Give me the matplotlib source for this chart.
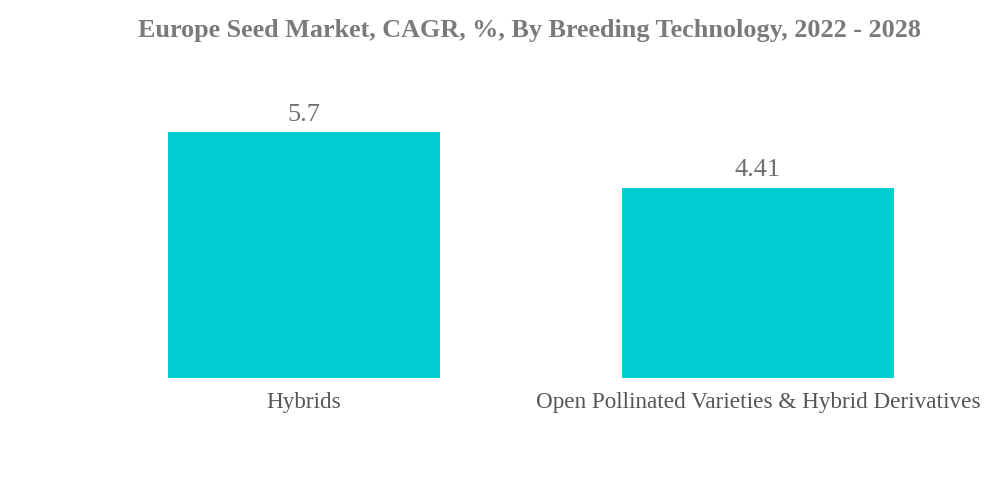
import matplotlib
matplotlib.use('Agg')
import matplotlib.pyplot as plt

categories = ['Hybrids', 'Open Pollinated Varieties & Hybrid Derivatives']
values = [5.7, 4.41]
value_labels = ['5.7', '4.41']

plt.rcParams['font.family'] = ['Liberation Serif', 'DejaVu Serif']

fig = plt.figure(figsize=(10, 4.83), dpi=100)
ax = fig.add_axes([0, (483 - 378) / 483, 1, (378 - 60) / 483])

x = [0, 1]
bars = ax.bar(x, values, width=0.6, color='#00CED1')
ax.set_xlim(-304 / 454, (1000 - 304) / 454)
ax.set_ylim(0, 318 / 43.16)

for b, lab in zip(bars, value_labels):
    ax.text(b.get_x() + b.get_width() / 2, b.get_height() + 0.15, lab,
            ha='center', va='bottom', fontsize=19, color='#707070')

ax.set_xticks(x)
ax.set_xticklabels(categories, fontsize=16.7, color='#555555')
ax.tick_params(axis='x', length=0, pad=10)
ax.set_yticks([])
for s in ax.spines.values():
    s.set_visible(False)

fig.text(0.53, 0.937, 'Europe Seed Market, CAGR, %, By Breeding Technology, 2022 - 2028',
         ha='center', va='center', fontsize=18.8, fontweight='bold', color='#7a7a7a')

fig.savefig('out.png', dpi=100)
